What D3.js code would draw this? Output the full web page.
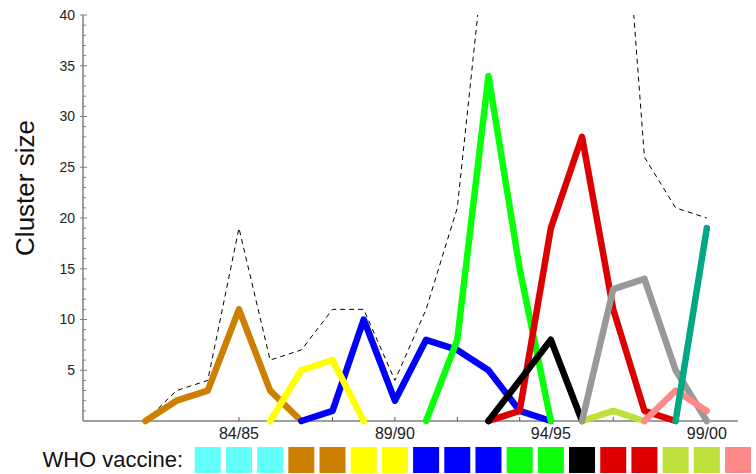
<!DOCTYPE html>
<html>
<head>
<meta charset="utf-8">
<script src="https://cdn.jsdelivr.net/npm/d3@7"></script>
<style>
  body { margin: 0; background: #fff; }
  svg { display: block; font-family: "Liberation Sans", Arial, sans-serif; }
</style>
</head>
<body>
<div id="chart"></div>
<script>
// Seasons are coded by their first year: 84 -> "84/85"
const labelSeasons = [84, 89, 94, 99];
const tickSeasons = d3.range(84, 100);

// Clusters: first season and cluster size per season
const brownStart = 81, brownVals = [0, 2, 3, 11, 3, 0];
const yellowStart = 85, yellowVals = [0, 5, 6, 0];
const blueStart = 86, blueVals = [0, 1, 10, 2, 8, 7, 5, 1, 0];
const greenStart = 90, greenVals = [0, 8, 34, 15, 0];
const redStart = 92, redVals = [0, 1, 19, 28, 11, 1, 0];
const blackStart = 92, blackVals = [0, 4, 8, 0];
const limeStart = 95, limeVals = [0, 1, 0];
const greyStart = 95, greyVals = [0, 13, 14, 5, 0];
const pinkStart = 97, pinkVals = [0, 3, 1];
const tealStart = 98, tealVals = [0, 19];

// Total of all clusters (dashed), goes off the top of the chart
const totalStart = 81;
const totalVals = [0, 3, 4, 19, 6, 7, 11, 11, 4, 11, 21, 50, 58, 64, 66, 67, 26, 21, 20];

// WHO vaccine strain per season, from 83/84
const vaccineStart = 83;
const vaccineColors = [
  "#62fffb", "#62fffb", "#62fffb", "#cc7f00", "#cc7f00", "#ffff00", "#ffff00",
  "#0000ff", "#0000ff", "#0000ff", "#0aff0a", "#0aff0a", "#000000",
  "#dd0000", "#dd0000", "#bde03a", "#bde03a", "#ff8888"
];

const clusters = [
  { start: brownStart, vals: brownVals, color: "#cc7f00" },
  { start: blueStart, vals: blueVals, color: "#0000ff" },
  { start: yellowStart, vals: yellowVals, color: "#ffff00" },
  { start: greenStart, vals: greenVals, color: "#0aff0a" },
  { start: redStart, vals: redVals, color: "#dd0000" },
  { start: blackStart, vals: blackVals, color: "#000000" },
  { start: limeStart, vals: limeVals, color: "#bde03a" },
  { start: greyStart, vals: greyVals, color: "#999999" },
  { start: pinkStart, vals: pinkVals, color: "#ff8888" },
  { start: tealStart, vals: tealVals, color: "#00a886" }
];

const toPoints = (start, vals) => vals.map((v, i) => ({ season: start + i, value: v }));
const seasonLabel = s => `${String(s % 100).padStart(2, "0")}/${String((s + 1) % 100).padStart(2, "0")}`;

const W = 756, H = 474;
const svg = d3.select("#chart").append("svg").attr("width", W).attr("height", H);

// Scales
const x = d3.scaleLinear().domain([79, 100]).range([83, 738]);
const y = d3.scaleLinear().domain([0, 40]).range([421, 15]);

// Clip for the total line (cut at the top of the y range)
svg.append("clipPath").attr("id", "plot-clip")
  .append("rect")
  .attr("x", x.range()[0]).attr("y", y(40))
  .attr("width", x.range()[1] - x.range()[0] + 10)
  .attr("height", H - y(40));

// Y axis: minor ticks every 1, labelled every 5
const yAxis = svg.append("g");
yAxis.append("line")
  .attr("x1", 83).attr("x2", 83).attr("y1", y(40)).attr("y2", y(0))
  .attr("stroke", "#808080").attr("stroke-width", 1.5);
yAxis.selectAll(".minor")
  .data(d3.range(1, 40).filter(d => d % 5 !== 0))
  .join("line")
  .attr("x1", 83).attr("x2", 86)
  .attr("y1", d => y(d)).attr("y2", d => y(d))
  .attr("stroke", "#808080").attr("stroke-width", 1);
yAxis.selectAll(".major")
  .data(d3.range(5, 41, 5))
  .join("line")
  .attr("x1", 80).attr("x2", 87)
  .attr("y1", d => y(d)).attr("y2", d => y(d))
  .attr("stroke", "#808080").attr("stroke-width", 1);
yAxis.selectAll("text")
  .data(d3.range(5, 41, 5))
  .join("text")
  .attr("x", 75).attr("y", d => y(d))
  .attr("dy", "0.35em")
  .attr("text-anchor", "end")
  .style("font-size", "14px")
  .attr("fill", "#222")
  .text(d => d);

// Y label
svg.append("text")
  .attr("transform", "rotate(-90)")
  .attr("x", -188).attr("y", 34)
  .attr("text-anchor", "middle")
  .style("font-size", "26px")
  .attr("fill", "#111")
  .text("Cluster size");

// X axis
const xAxis = svg.append("g").attr("transform", `translate(0,${y(0)})`);
xAxis.append("line")
  .attr("x1", 83).attr("x2", 738)
  .attr("stroke", "#808080").attr("stroke-width", 1.5);
xAxis.selectAll(".tick")
  .data(tickSeasons)
  .join("line")
  .attr("x1", d => x(d)).attr("x2", d => x(d))
  .attr("y1", 0).attr("y2", -4)
  .attr("stroke", "#555").attr("stroke-width", 1);
xAxis.selectAll("text")
  .data(labelSeasons)
  .join("text")
  .attr("x", d => x(d)).attr("y", 18)
  .attr("text-anchor", "middle")
  .style("font-size", "16px")
  .attr("fill", "#222")
  .text(seasonLabel);

// Total line (dashed)
const line = d3.line().x(d => x(d.season)).y(d => y(d.value));

svg.append("path")
  .datum(toPoints(totalStart, totalVals))
  .attr("clip-path", "url(#plot-clip)")
  .attr("d", line)
  .attr("fill", "none")
  .attr("stroke", "#000")
  .attr("stroke-width", 1)
  .attr("stroke-dasharray", "5,4");

// Cluster lines
svg.selectAll(".cluster")
  .data(clusters)
  .join("path")
  .attr("class", "cluster")
  .attr("d", d => line(toPoints(d.start, d.vals)))
  .attr("fill", "none")
  .attr("stroke", d => d.color)
  .attr("stroke-width", 6.5)
  .attr("stroke-linecap", "round")
  .attr("stroke-linejoin", "round");

// WHO vaccine row
svg.append("text")
  .attr("x", 183).attr("y", 467)
  .attr("text-anchor", "end")
  .style("font-size", "22px")
  .attr("fill", "#111")
  .text("WHO vaccine:");

svg.selectAll(".vaccine")
  .data(vaccineColors.map((c, i) => ({ season: vaccineStart + i, color: c })))
  .join("rect")
  .attr("class", "vaccine")
  .attr("x", d => x(d.season) - 13)
  .attr("y", 447)
  .attr("width", 26)
  .attr("height", 26)
  .attr("fill", d => d.color);
</script>
</body>
</html>
